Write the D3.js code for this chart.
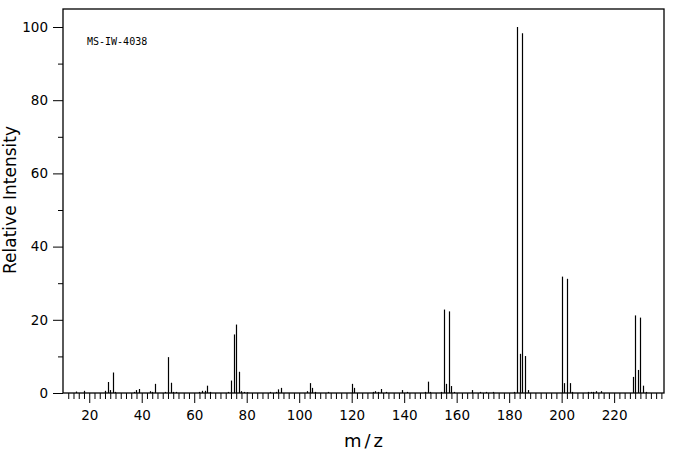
<!DOCTYPE html>
<html>
<head>
<meta charset="utf-8">
<script src="https://cdn.jsdelivr.net/npm/d3@7"></script>
<style>
  body { margin: 0; background: #fff; }
  text { font-family: "DejaVu Sans", sans-serif; fill: #000; }
</style>
</head>
<body>
<div id="chart"></div>
<script>
// peak positions (m/z) and relative intensities
const mz = [15, 18, 26, 27, 28, 29, 30, 37, 38, 39, 43, 44, 45, 49, 50, 51, 52, 53,
  62, 63, 64, 65, 66, 73, 74, 75, 76, 77, 78, 79, 80, 89, 91, 92, 93,
  103, 104, 105, 106, 111, 120, 121, 128, 129, 130, 131, 133, 139, 141,
  148, 149, 150, 154, 155, 156, 157, 158, 159, 166, 169, 171, 174,
  182, 183, 184, 185, 186, 187, 200, 201, 202, 203, 204,
  210, 211, 212, 213, 215, 227, 228, 229, 230, 231, 232];
const intensity = [0.4, 0.6, 0.6, 3.0, 0.8, 5.6, 0.3, 0.3, 0.8, 1.1, 0.5, 0.3, 2.5, 0.3, 9.8, 2.8, 0.3, 0.3,
  0.3, 0.6, 0.6, 2.0, 0.3, 0.3, 3.4, 16.0, 18.7, 5.8, 0.5, 0.3, 0.2, 0.3, 0.3, 1.0, 1.4,
  0.5, 2.7, 1.4, 0.3, 0.3, 2.5, 1.4, 0.3, 0.5, 0.3, 1.1, 0.3, 0.8, 0.3,
  0.3, 3.1, 0.3, 0.3, 22.8, 2.5, 22.3, 1.9, 0.3, 0.8, 0.3, 0.3, 0.3,
  0.3, 100, 10.7, 98.3, 10.1, 0.8, 31.8, 2.7, 31.2, 2.7, 0.3,
  0.3, 0.3, 0.3, 0.5, 0.5, 4.4, 21.2, 6.3, 20.6, 2.0, 0.3];

const xMajor = [20, 40, 60, 80, 100, 120, 140, 160, 180, 200, 220];
const yMajor = [0, 20, 40, 60, 80, 100];
const yMinor = [10, 30, 50, 70, 90];
const label = "MS-IW-4038";

const W = 676, H = 455;
const svg = d3.select("#chart").append("svg")
  .attr("width", W).attr("height", H);

const x = d3.scaleLinear().domain([10, 239]).range([63, 664]);
const y = d3.scaleLinear().domain([0, 100]).range([393, 27]);

const xMinor = d3.range(12, 239, 2).filter(v => xMajor.indexOf(v) < 0);

// x axis: small ticks every 2, long ones with labels
svg.append("g")
  .attr("transform", "translate(0," + y(0) + ")")
  .call(d3.axisBottom(x).tickValues(xMinor).tickSize(6).tickFormat(""))
  .call(g => g.select(".domain").remove());
svg.append("g")
  .attr("transform", "translate(0," + y(0) + ")")
  .call(d3.axisBottom(x).tickValues(xMajor).tickSize(10).tickPadding(7))
  .call(g => g.select(".domain").remove())
  .selectAll("text").attr("font-size", 13.5).attr("font-family", "DejaVu Sans");

// y axis
svg.append("g")
  .attr("transform", "translate(" + x(10) + ",0)")
  .call(d3.axisLeft(y).tickValues(yMinor).tickSize(5).tickFormat(""))
  .call(g => g.select(".domain").remove());
svg.append("g")
  .attr("transform", "translate(" + x(10) + ",0)")
  .call(d3.axisLeft(y).tickValues(yMajor).tickSize(10).tickPadding(5))
  .call(g => g.select(".domain").remove())
  .selectAll("text").attr("font-size", 13.5).attr("font-family", "DejaVu Sans");

svg.selectAll(".tick line").attr("stroke", "#000");

// frame
svg.append("rect")
  .attr("x", x(10)).attr("y", 9)
  .attr("width", x(239) - x(10)).attr("height", y(0) - 9)
  .attr("fill", "none").attr("stroke", "#000").attr("stroke-width", 1.3);

// peaks
svg.append("g").selectAll("line")
  .data(mz.map((m, i) => ({ m: m, v: intensity[i] })))
  .enter().append("line")
    .attr("x1", d => Math.round(x(d.m)) + 0.5)
    .attr("x2", d => Math.round(x(d.m)) + 0.5)
    .attr("y1", y(0))
    .attr("y2", d => y(d.v))
    .attr("stroke", "#000")
    .attr("stroke-width", 1.2);

svg.append("text")
  .attr("x", 87).attr("y", 45)
  .style("font-family", "'DejaVu Sans Mono', monospace")
  .attr("font-size", 10)
  .text(label);

svg.append("text")
  .attr("transform", "translate(16,200) rotate(-90)")
  .attr("text-anchor", "middle")
  .attr("font-size", 17)
  .text("Relative Intensity");

svg.append("text")
  .attr("x", 365).attr("y", 447)
  .attr("text-anchor", "middle")
  .attr("font-size", 18)
  .attr("letter-spacing", 3)
  .text("m/z");
</script>
</body>
</html>
